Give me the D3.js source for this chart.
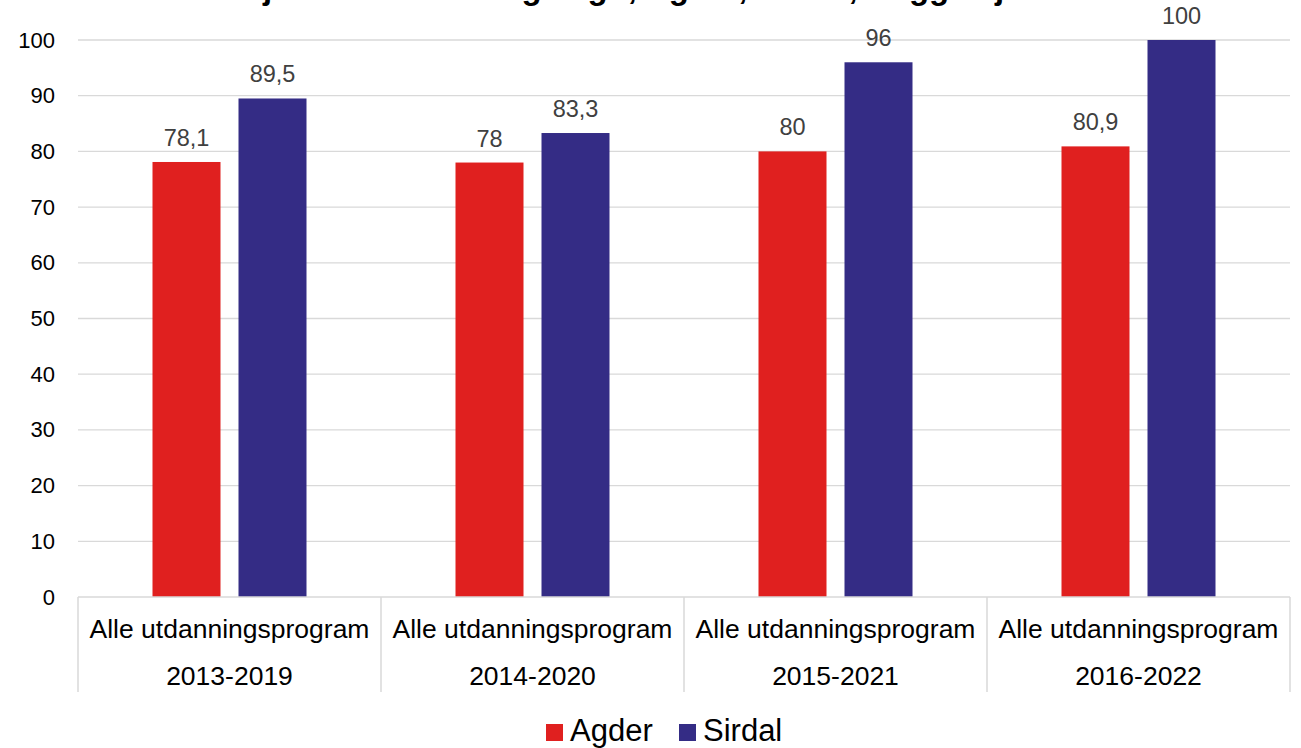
<!DOCTYPE html>
<html><head><meta charset="utf-8">
<script src="https://cdn.jsdelivr.net/npm/d3@7"></script>
<style>body{margin:0;background:#fff;} svg{display:block;font-family:Arial,"Liberation Sans",sans-serif;}</style>
</head><body>
<svg id="chart" width="1301" height="748"></svg>
<script>
const title = "Gjennomstrømning i vgo, Agder, Sirdal, Begge kjønn";
const programs = ["Alle utdanningsprogram","Alle utdanningsprogram","Alle utdanningsprogram","Alle utdanningsprogram"];
const periods = ["2013-2019","2014-2020","2015-2021","2016-2022"];
const seriesNames = ["Agder","Sirdal"];
const agder = [78.1, 78, 80, 80.9];
const sirdal = [89.5, 83.3, 96, 100];
const yTicks = [0,10,20,30,40,50,60,70,80,90,100];
const colors = ["#E0201F","#342C85"];

(function(){
const svg = d3.select("#chart");
const mLeft = 78, mRight = 1290, mTop = 40, mBottom = 597;
const x = d3.scaleBand().domain(periods).range([mLeft, mRight]).paddingInner(0).paddingOuter(0);
const y = d3.scaleLinear().domain([0,100]).range([mBottom, mTop]);
const groupW = 154;
const inner = d3.scaleBand().domain(seriesNames)
  .range([(x.bandwidth()-groupW)/2, (x.bandwidth()+groupW)/2]).paddingInner(18/86).paddingOuter(0);

// title (mostly clipped at top, as in the reference)
svg.append("text").attr("x", 651).attr("y", -1).attr("text-anchor","middle")
  .attr("font-size", 33).attr("font-weight","bold").attr("fill","#000").text(title);

// gridlines
svg.append("g").selectAll("line").data(yTicks.filter(d=>d>0)).join("line")
  .attr("x1", mLeft).attr("x2", mRight).attr("y1", d=>y(d)).attr("y2", d=>y(d))
  .attr("stroke","#d9d9d9").attr("stroke-width",1.3);

// y axis labels
const yAxis = d3.axisLeft(y).tickValues(yTicks).tickSize(0).tickPadding(23).tickFormat(d3.format("d"));
const ya = svg.append("g").attr("transform",`translate(${mLeft},0)`).call(yAxis);
ya.select(".domain").remove();
ya.selectAll("text").attr("font-size", 22).attr("fill","#000").attr("font-family","Arial, 'Liberation Sans', sans-serif");

// bars
const data = periods.map((p,i)=>({period:p, vals:[{s:"Agder",v:agder[i]},{s:"Sirdal",v:sirdal[i]}]}));
const g = svg.append("g").selectAll("g").data(data).join("g").attr("transform", d=>`translate(${x(d.period)},0)`);
g.selectAll("rect").data(d=>d.vals).join("rect")
  .attr("x", d=>inner(d.s)).attr("width", inner.bandwidth())
  .attr("y", d=>y(d.v)).attr("height", d=>y(0)-y(d.v))
  .attr("fill", (d,i)=>colors[i]);
const fmt = v => String(v).replace(".", ",");
g.selectAll("text.val").data(d=>d.vals).join("text").attr("class","val")
  .attr("x", d=>inner(d.s)+inner.bandwidth()/2).attr("y", d=>y(d.v)-16)
  .attr("text-anchor","middle").attr("font-size",23.5).attr("fill","#404040").text(d=>fmt(d.v));

// x axis line and separators
svg.append("line").attr("x1",mLeft).attr("x2",mRight).attr("y1",mBottom).attr("y2",mBottom)
  .attr("stroke","#d9d9d9").attr("stroke-width",1.5);
const seps = periods.map(p=>x(p)).concat([mRight]);
svg.append("g").selectAll("line").data(seps).join("line")
  .attr("x1",d=>d).attr("x2",d=>d).attr("y1",mBottom).attr("y2",692)
  .attr("stroke","#d9d9d9").attr("stroke-width",1.5);

// category labels
svg.append("g").selectAll("text").data(periods).join("text")
  .attr("x", d=>x(d)+x.bandwidth()/2).attr("y", 638).attr("text-anchor","middle")
  .attr("font-size",26.5).attr("fill","#000").text((d,i)=>programs[i]);
svg.append("g").selectAll("text").data(periods).join("text")
  .attr("x", d=>x(d)+x.bandwidth()/2).attr("y", 685).attr("text-anchor","middle")
  .attr("font-size",26.5).attr("fill","#000").text(d=>d);

// legend
const legX = [546, 679];
const lg = svg.append("g").selectAll("g").data(seriesNames).join("g")
  .attr("transform",(d,i)=>`translate(${legX[i]},724)`);
lg.append("rect").attr("width",17).attr("height",17).attr("fill",(d,i)=>colors[i]);
lg.append("text").attr("x",24).attr("y",17).attr("font-size",31).attr("fill","#000").text(d=>d);
})();
</script>
</body></html>
